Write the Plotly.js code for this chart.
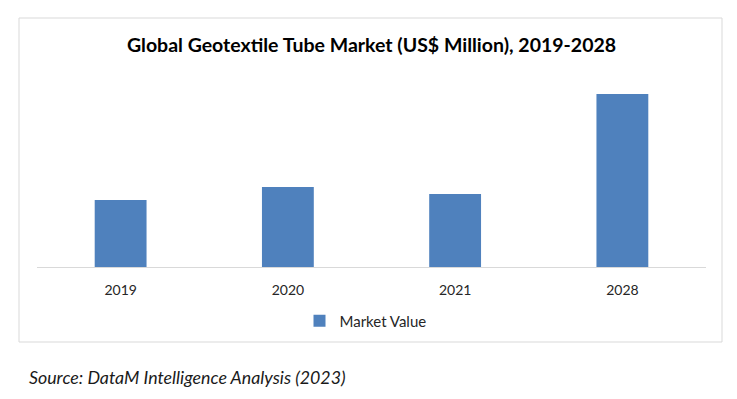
<!DOCTYPE html>
<html>
<head>
<meta charset="utf-8">
<script src="https://cdn.plot.ly/plotly-3.0.1.min.js"></script>
<style>
  html, body { margin: 0; padding: 0; background: #ffffff; }
  #chart { width: 737px; height: 399px; }
</style>
</head>
<body>
<div id="chart"></div>
<script>
// Data (US$ Million, estimated; no value axis shown)
const years = ["2019", "2020", "2021", "2028"];
const marketValue = [67, 80, 73, 173];
const seriesName = "Market Value";
const chartTitle = "Global Geotextile Tube Market (US$ Million), 2019-2028";
const sourceText = "Source: DataM Intelligence Analysis (2023)";

// Plot-area geometry (pixels) used to place frame and notes in paper coordinates
const W = 737, H = 399;
const plotL = 37, plotR = 706, plotT = 67, plotB = 267;
const pw = plotR - plotL, ph = plotB - plotT;
const px = x => (x - plotL) / pw;
const py = y => (plotB - y) / ph;

const trace = {
  type: "bar",
  x: years,
  y: marketValue,
  name: seriesName,
  marker: { color: "#4F81BD", line: { width: 0 } },
  hoverinfo: "none",
  showlegend: true
};

const layout = {
  width: W,
  height: H,
  margin: { l: plotL, r: W - plotR, t: plotT, b: H - plotB, pad: 0 },
  paper_bgcolor: "#ffffff",
  plot_bgcolor: "#ffffff",
  font: { family: "Lato, 'Open Sans', sans-serif", color: "#262626" },
  title: {
    text: chartTitle,
    font: { family: "Lato, 'Open Sans', sans-serif", size: 19.5, weight: "bold", color: "#000000" },
    x: 0.5, xref: "paper", xanchor: "center",
    y: 1 - 45 / H, yref: "container", yanchor: "middle"
  },
  bargap: 0.69,
  xaxis: {
    type: "category",
    showline: true,
    linecolor: "#D9D9D9",
    linewidth: 1,
    ticks: "",
    showgrid: false,
    zeroline: false,
    tickfont: { size: 14, color: "#262626" },
    ticklabelstandoff: 10
  },
  yaxis: {
    visible: false,
    range: [0, 200],
    showgrid: false,
    zeroline: false
  },
  showlegend: true,
  legend: {
    orientation: "h",
    x: 0.5 - 6 / pw, xanchor: "center",
    y: py(321), yanchor: "middle",
    font: { size: 15, color: "#262626" },
    bgcolor: "rgba(0,0,0,0)"
  },
  shapes: [
    {
      type: "rect", xref: "paper", yref: "paper",
      x0: px(19), x1: px(722), y0: py(342), y1: py(18),
      line: { color: "#D9D9D9", width: 1 },
      fillcolor: "rgba(0,0,0,0)",
      layer: "below"
    }
  ],
  annotations: [
    {
      text: "<i>" + sourceText + "</i>",
      xref: "paper", yref: "paper",
      x: px(27), y: py(377),
      xanchor: "left", yanchor: "middle",
      showarrow: false,
      font: { family: "Lato, 'Open Sans', sans-serif", size: 17.8, color: "#1a1a1a" }
    }
  ]
};

Plotly.newPlot("chart", [trace], layout, { displayModeBar: false, staticPlot: true });
</script>
</body>
</html>
